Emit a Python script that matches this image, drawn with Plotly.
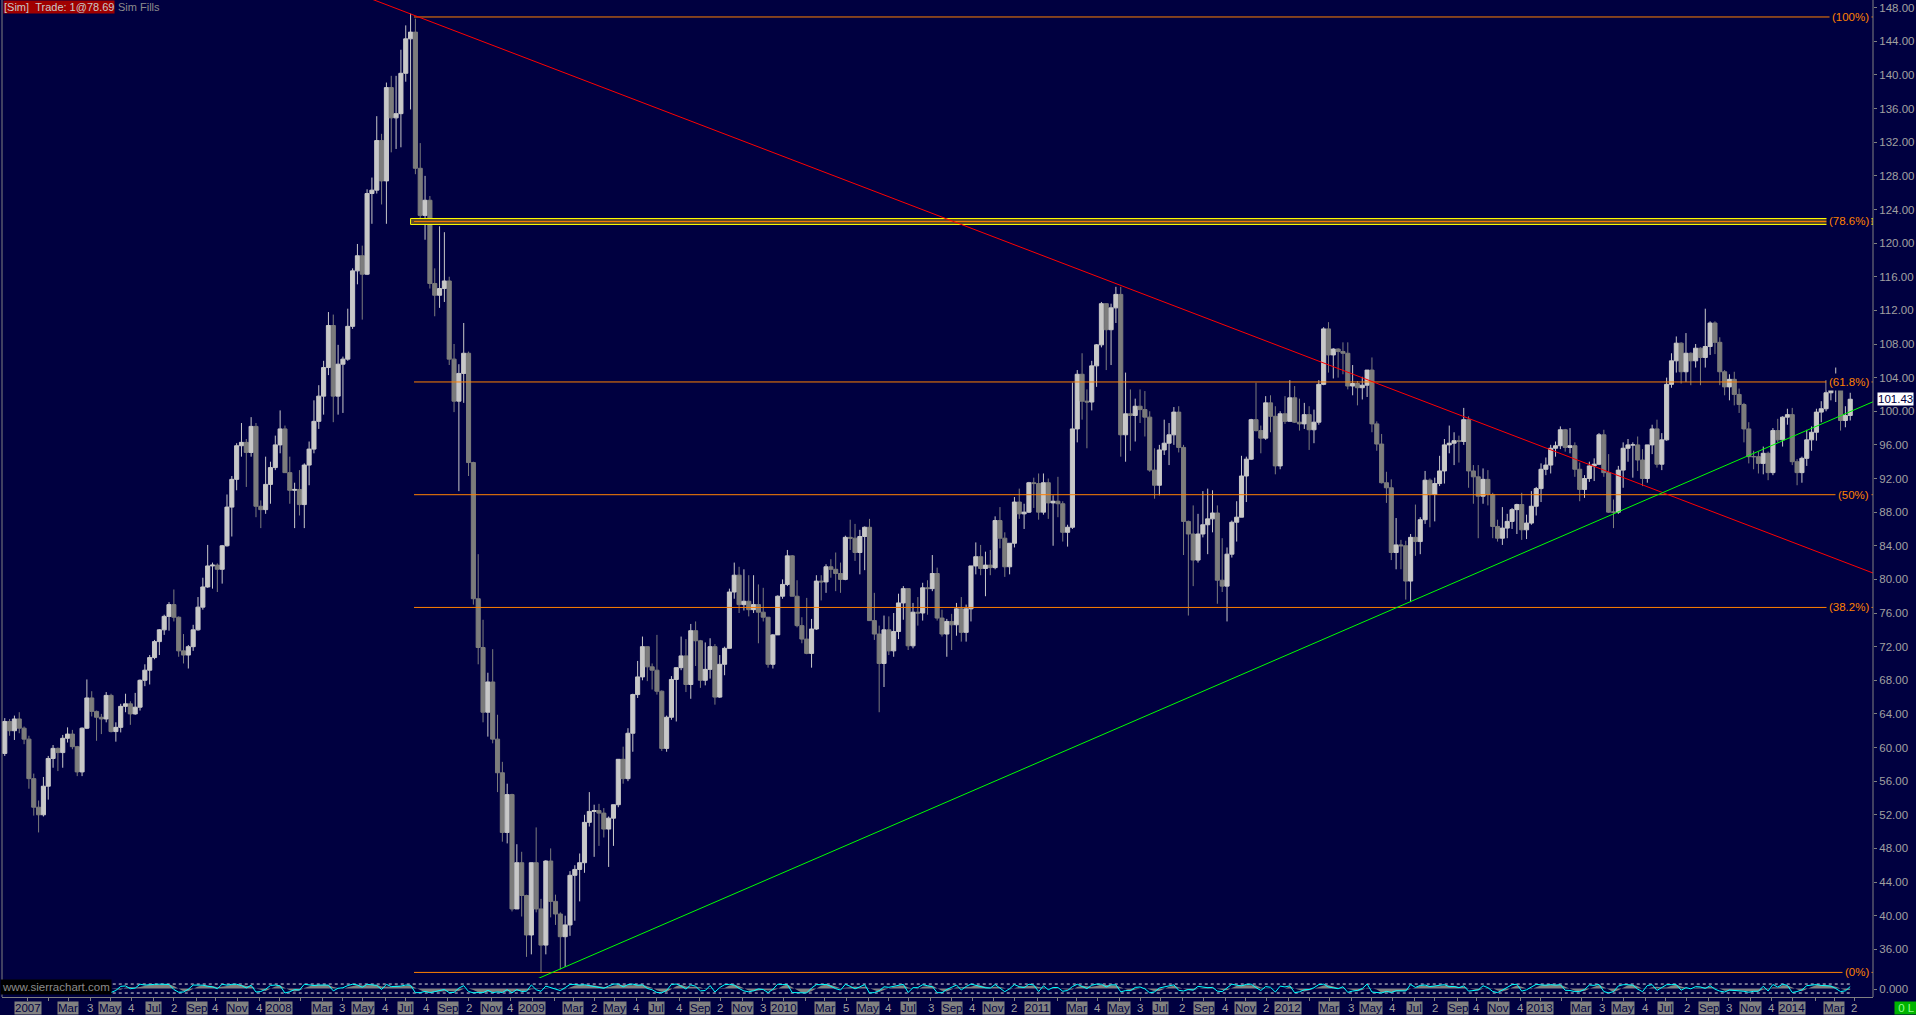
import plotly.graph_objects as go
import pandas as pd

# weekly bars, first bar = week of 27 Nov 2006, one bar per week
first_week = '2006-11-29'

wk_open = [
    59.3, 63.1, 62.0, 63.4, 62.3, 61.0, 56.3, 52.9, 52.0, 55.4,
    58.7, 59.9, 59.4, 61.1, 61.6, 60.1, 57.1, 62.3, 65.9, 64.3,
    63.6, 63.4, 66.2, 61.9, 62.4, 64.9, 65.2, 64.0, 64.8, 68.0,
    69.2, 70.7, 72.6, 74.0, 75.6, 77.0, 75.5, 71.5, 71.0, 72.0,
    74.0, 76.7, 79.1, 81.6, 81.7, 81.2, 84.0, 88.6, 91.9, 95.9,
    96.3, 95.1, 98.2, 88.7, 88.3, 91.3, 93.3, 96.0, 97.9, 92.7,
    90.6, 90.7, 88.9, 93.6, 95.5, 98.8, 101.8, 105.2, 110.2, 101.8,
    105.6, 106.2, 110.1, 116.7, 118.5, 116.3, 125.9, 126.3, 132.2, 127.4,
    138.5, 134.9, 135.4, 140.2, 144.3, 145.1, 128.9, 123.3, 125.1, 115.2,
    113.8, 114.6, 115.5, 106.2, 101.2, 104.5, 106.9, 93.9, 77.7, 71.9,
    64.2, 67.8, 61.0, 57.0, 49.9, 54.4, 40.8, 46.3, 42.4, 37.7,
    46.3, 40.8, 36.5, 46.5, 41.7, 40.2, 37.5, 38.9, 44.8, 45.5,
    46.3, 51.1, 52.4, 52.5, 52.2, 50.3, 51.6, 53.2, 58.6, 56.3,
    61.7, 66.3, 68.4, 72.0, 69.6, 69.2, 66.7, 59.9, 63.6, 68.1,
    69.5, 70.9, 67.5, 73.9, 72.7, 68.0, 69.3, 72.0, 66.0, 69.9,
    71.8, 78.5, 80.5, 77.0, 77.4, 76.4, 77.0, 76.1, 75.5, 69.9,
    73.4, 78.0, 79.4, 82.8, 78.0, 74.5, 72.9, 71.2, 74.1, 79.8,
    79.7, 81.5, 81.2, 80.7, 80.0, 85.0, 84.9, 83.2, 85.1, 86.2,
    75.1, 73.5, 70.0, 74.0, 71.5, 73.8, 77.2, 78.9, 72.1, 76.1,
    76.0, 79.0, 78.9, 80.7, 75.4, 73.5, 75.0, 74.6, 76.5, 73.7,
    76.5, 81.6, 82.7, 81.3, 81.7, 81.4, 87.0, 84.9, 81.5, 84.3,
    89.2, 87.8, 88.0, 91.5, 91.4, 88.0, 91.5, 89.1, 89.3, 89.0,
    85.6, 86.2, 97.9, 104.4, 101.2, 101.1, 105.4, 107.9, 112.8, 109.7,
    112.3, 113.9, 97.2, 99.7, 99.5, 100.6, 100.2, 99.3, 93.0, 91.2,
    95.4, 96.2, 97.2, 99.9, 95.7, 86.9, 85.4, 82.3, 85.4, 86.5,
    87.2, 87.9, 79.9, 79.2, 83.0, 86.8, 87.4, 92.3, 94.3, 99.0,
    97.7, 96.8, 101.0, 99.4, 93.5, 99.7, 98.8, 101.6, 98.7, 98.5,
    99.6, 97.8, 98.7, 103.2, 109.8, 106.7, 107.4, 107.1, 106.9, 103.0,
    103.3, 102.8, 103.1, 104.9, 98.5, 96.1, 91.5, 90.9, 83.2, 84.1,
    84.0, 79.8, 85.0, 84.5, 87.1, 91.8, 90.1, 91.4, 92.9, 96.0,
    96.2, 96.5, 96.4, 99.0, 92.9, 92.2, 89.9, 91.9, 90.1, 86.3,
    84.9, 86.1, 86.9, 88.3, 88.9, 85.9, 86.7, 88.7, 90.8, 93.1,
    93.6, 95.6, 95.9, 97.8, 95.7, 95.9, 93.1, 90.7, 92.0, 93.5,
    93.7, 97.2, 92.7, 88.0, 88.0, 93.0, 95.6, 96.0, 96.0, 94.2,
    92.0, 96.0, 97.9, 93.7, 96.6, 103.2, 106.0, 108.1, 104.7, 106.9,
    106.0, 107.5, 106.4, 107.7, 110.5, 108.2, 104.7, 102.9, 103.8, 102.0,
    100.8, 97.9, 94.6, 94.6, 93.8, 95.0, 92.7, 97.7, 96.6, 99.3,
    99.6, 94.0, 92.7, 94.4, 96.6, 97.5, 99.9, 100.3, 102.2, 102.6,
    102.6, 98.9, 99.5,
]

wk_high = [
    63.5, 63.4, 63.8, 64.2, 62.5, 61.4, 56.9, 53.7, 56.5, 59.0,
    60.3, 60.0, 61.5, 62.4, 62.1, 60.2, 62.4, 68.1, 66.7, 64.4,
    64.0, 66.6, 66.4, 63.0, 65.2, 66.4, 65.5, 66.5, 68.1, 69.9,
    71.0, 72.8, 74.1, 75.8, 77.3, 78.8, 75.6, 73.5, 72.2, 74.6,
    77.9, 80.2, 84.1, 82.0, 81.9, 84.1, 90.1, 92.3, 96.2, 98.6,
    96.7, 99.3, 98.6, 89.4, 94.6, 94.0, 97.1, 100.1, 98.3, 94.6,
    91.5, 93.0, 93.8, 96.4, 101.3, 103.1, 106.0, 111.8, 111.5, 107.9,
    106.5, 112.2, 117.0, 119.9, 119.7, 126.4, 127.8, 135.1, 133.0, 139.1,
    139.9, 139.9, 143.0, 145.9, 147.3, 146.7, 131.9, 128.0, 125.6, 117.0,
    122.0, 121.3, 116.0, 108.0, 105.6, 110.5, 107.1, 94.0, 83.0, 75.2,
    68.9, 71.7, 63.9, 58.3, 55.7, 54.5, 48.5, 47.6, 42.5, 46.3,
    50.5, 42.0, 46.6, 48.0, 42.5, 40.4, 40.0, 45.3, 46.0, 47.4,
    52.0, 54.7, 53.2, 53.3, 52.8, 51.8, 53.2, 58.6, 60.1, 62.3,
    66.4, 70.3, 73.2, 72.0, 70.0, 73.4, 66.8, 63.8, 68.5, 69.5,
    73.2, 72.9, 74.7, 75.0, 72.8, 72.5, 73.0, 72.3, 71.0, 72.0,
    78.9, 82.0, 81.5, 81.2, 80.5, 80.5, 79.4, 79.0, 75.5, 73.5,
    78.1, 80.0, 83.5, 82.9, 79.9, 75.5, 77.8, 75.3, 80.5, 80.5,
    81.8, 82.4, 83.2, 82.0, 85.2, 87.1, 86.6, 85.9, 86.3, 87.2,
    78.4, 74.5, 75.7, 75.6, 76.0, 78.3, 79.2, 78.9, 77.2, 77.9,
    79.6, 79.9, 82.9, 81.4, 76.4, 75.3, 75.9, 77.2, 77.9, 77.0,
    81.6, 84.4, 84.1, 83.3, 83.5, 87.5, 88.6, 85.6, 84.3, 89.8,
    90.8, 89.0, 91.6, 92.1, 92.6, 92.6, 92.0, 90.0, 92.2, 89.3,
    86.5, 103.4, 104.9, 106.9, 102.6, 106.0, 108.0, 113.0, 112.8, 112.8,
    114.8, 114.8, 104.6, 102.6, 101.5, 102.6, 102.4, 100.0, 95.6, 96.0,
    99.0, 98.6, 100.5, 100.6, 96.0, 87.0, 88.8, 87.8, 90.5, 90.8,
    90.6, 88.8, 84.9, 83.8, 87.0, 89.3, 94.7, 94.6, 99.1, 103.4,
    98.3, 101.8, 101.9, 100.6, 100.0, 101.8, 103.7, 103.0, 101.5, 101.0,
    100.6, 100.2, 103.7, 110.0, 110.6, 107.5, 107.5, 108.2, 108.2, 105.5,
    103.6, 104.1, 104.9, 106.4, 98.8, 97.3, 92.8, 91.9, 87.3, 84.7,
    84.6, 85.4, 88.9, 87.4, 92.9, 92.0, 92.1, 94.7, 96.7, 98.3,
    97.5, 97.1, 100.4, 99.4, 93.6, 93.6, 93.2, 93.0, 90.3, 87.1,
    88.6, 87.8, 88.5, 89.0, 90.3, 87.7, 90.5, 91.0, 93.8, 94.5,
    96.0, 96.4, 98.2, 97.9, 98.0, 96.3, 93.9, 92.4, 94.0, 94.4,
    97.4, 97.8, 94.9, 89.5, 93.5, 96.3, 96.7, 96.3, 97.0, 95.5,
    96.0, 98.4, 99.0, 97.4, 104.0, 106.9, 108.9, 108.2, 109.3, 107.0,
    108.0, 107.6, 112.2, 110.7, 110.7, 108.8, 104.9, 104.4, 104.7, 102.7,
    101.0, 98.7, 95.3, 95.2, 95.8, 95.2, 98.0, 99.1, 99.4, 100.3,
    100.4, 94.3, 94.6, 97.8, 98.2, 100.3, 101.2, 103.7, 103.0, 105.2,
    102.9, 100.6, 102.2,
]

wk_low = [
    59.0, 61.4, 60.9, 61.7, 60.4, 55.1, 51.9, 49.9, 51.8, 53.8,
    57.6, 57.2, 57.6, 60.6, 59.8, 56.6, 56.6, 62.2, 63.7, 60.8,
    61.6, 63.0, 61.8, 60.7, 61.8, 64.2, 62.7, 63.9, 64.4, 67.3,
    67.5, 70.5, 71.0, 73.4, 73.9, 75.0, 70.8, 70.0, 69.4, 71.5,
    73.9, 76.4, 79.0, 78.9, 78.5, 79.5, 83.9, 85.1, 90.6, 94.6,
    91.0, 94.6, 87.4, 86.1, 87.8, 89.0, 93.0, 95.0, 92.7, 89.0,
    86.1, 87.6, 86.1, 91.2, 95.0, 97.9, 99.6, 104.3, 98.7, 99.6,
    99.8, 106.0, 109.8, 115.1, 110.9, 116.2, 122.3, 125.9, 124.6, 122.3,
    130.8, 131.2, 131.4, 139.2, 135.9, 128.2, 122.2, 120.4, 114.6, 111.3,
    112.3, 113.0, 105.5, 99.9, 90.5, 101.0, 92.3, 77.0, 69.9, 63.0,
    61.3, 60.5, 54.7, 48.8, 48.6, 40.5, 40.8, 39.9, 35.1, 35.4,
    40.4, 33.2, 35.4, 39.8, 38.9, 33.6, 33.9, 37.6, 39.4, 41.7,
    45.1, 50.6, 47.0, 48.3, 49.3, 45.8, 48.3, 52.9, 55.7, 56.0,
    59.5, 65.9, 68.0, 67.9, 66.9, 66.3, 59.6, 59.5, 63.3, 63.1,
    69.2, 66.6, 65.8, 69.7, 67.1, 67.4, 68.2, 65.1, 65.9, 68.6,
    71.8, 77.7, 76.0, 76.3, 75.6, 76.0, 72.4, 75.0, 69.5, 69.4,
    73.4, 77.7, 79.2, 78.0, 74.3, 72.4, 71.1, 69.5, 74.0, 77.5,
    78.4, 80.2, 78.6, 78.4, 79.9, 83.5, 82.2, 80.6, 81.1, 75.1,
    72.8, 64.2, 67.2, 71.0, 70.8, 72.9, 75.2, 71.6, 71.8, 74.5,
    75.1, 75.8, 78.6, 75.1, 73.2, 70.8, 71.6, 73.3, 72.6, 72.6,
    75.0, 80.6, 80.5, 78.0, 80.5, 81.2, 83.7, 80.3, 80.6, 83.8,
    87.2, 86.0, 87.9, 88.5, 87.1, 87.7, 87.2, 84.0, 87.4, 84.5,
    83.9, 86.0, 96.3, 99.0, 95.6, 100.1, 102.9, 107.6, 104.9, 105.5,
    110.5, 94.6, 94.0, 95.3, 96.4, 98.6, 97.0, 92.8, 89.6, 90.0,
    94.8, 93.6, 96.0, 95.1, 82.9, 75.7, 79.2, 82.0, 85.0, 83.0,
    85.6, 77.1, 78.5, 75.0, 82.6, 84.5, 87.4, 89.2, 94.2, 97.6,
    95.0, 96.6, 97.5, 92.5, 93.1, 98.5, 98.8, 98.6, 97.7, 97.9,
    95.4, 96.2, 98.4, 103.1, 104.6, 103.9, 104.0, 104.4, 102.6, 101.9,
    100.7, 101.4, 101.7, 97.5, 95.3, 91.4, 89.1, 82.3, 81.2, 81.2,
    77.6, 77.3, 82.8, 83.0, 86.6, 86.2, 86.9, 91.1, 91.4, 95.0,
    93.6, 93.9, 96.0, 90.9, 89.0, 84.9, 89.0, 88.8, 84.9, 84.5,
    84.1, 84.9, 86.0, 85.4, 84.7, 84.8, 86.5, 87.6, 89.2, 92.4,
    92.6, 94.6, 95.5, 95.2, 95.0, 92.2, 89.3, 89.7, 91.6, 91.7,
    93.6, 92.2, 87.9, 86.1, 87.8, 90.9, 94.0, 92.1, 92.9, 91.1,
    91.5, 94.9, 93.3, 93.0, 96.5, 102.8, 104.6, 103.3, 103.5, 103.1,
    105.2, 103.1, 105.2, 106.7, 106.8, 103.1, 101.9, 101.3, 100.7, 99.8,
    96.3, 93.8, 93.1, 92.6, 92.5, 91.8, 92.4, 96.3, 95.8, 98.4,
    93.6, 91.2, 91.5, 93.5, 95.3, 96.5, 98.7, 100.0, 101.3, 101.1,
    97.7, 98.1, 98.9,
]

wk_close = [
    63.1, 62.0, 63.4, 62.3, 61.0, 56.3, 52.9, 52.0, 55.4, 58.7,
    59.9, 59.4, 61.1, 61.6, 60.1, 57.1, 62.3, 65.9, 64.3, 63.6,
    63.4, 66.2, 61.9, 62.4, 64.9, 65.2, 64.0, 64.8, 68.0, 69.2,
    70.7, 72.6, 74.0, 75.6, 77.0, 75.5, 71.5, 71.0, 72.0, 74.0,
    76.7, 79.1, 81.6, 81.7, 81.2, 84.0, 88.6, 91.9, 95.9, 96.3,
    95.1, 98.2, 88.7, 88.3, 91.3, 93.3, 96.0, 97.9, 92.7, 90.6,
    90.7, 88.9, 93.6, 95.5, 98.8, 101.8, 105.2, 110.2, 101.8, 105.6,
    106.2, 110.1, 116.7, 118.5, 116.3, 125.9, 126.3, 132.2, 127.4, 138.5,
    134.9, 135.4, 140.2, 144.3, 145.1, 128.9, 123.3, 125.1, 115.2, 113.8,
    114.6, 115.5, 106.2, 101.2, 104.5, 106.9, 93.9, 77.7, 71.9, 64.2,
    67.8, 61.0, 57.0, 49.9, 54.4, 40.8, 46.3, 42.4, 37.7, 46.3,
    40.8, 36.5, 46.5, 41.7, 40.2, 37.5, 38.9, 44.8, 45.5, 46.3,
    51.1, 52.4, 52.5, 52.2, 50.3, 51.6, 53.2, 58.6, 56.3, 61.7,
    66.3, 68.4, 72.0, 69.6, 69.2, 66.7, 59.9, 63.6, 68.1, 69.5,
    70.9, 67.5, 73.9, 72.7, 68.0, 69.3, 72.0, 66.0, 69.9, 71.8,
    78.5, 80.5, 77.0, 77.4, 76.4, 77.0, 76.1, 75.5, 69.9, 73.4,
    78.0, 79.4, 82.8, 78.0, 74.5, 72.9, 71.2, 74.1, 79.8, 79.7,
    81.5, 81.2, 80.7, 80.0, 85.0, 84.9, 83.2, 85.1, 86.2, 75.1,
    73.5, 70.0, 74.0, 71.5, 73.8, 77.2, 78.9, 72.1, 76.1, 76.0,
    79.0, 78.9, 80.7, 75.4, 73.5, 75.0, 74.6, 76.5, 73.7, 76.5,
    81.6, 82.7, 81.3, 81.7, 81.4, 87.0, 84.9, 81.5, 84.3, 89.2,
    87.8, 88.0, 91.5, 91.4, 88.0, 91.5, 89.1, 89.3, 89.0, 85.6,
    86.2, 97.9, 104.4, 101.2, 101.1, 105.4, 107.9, 112.8, 109.7, 112.3,
    113.9, 97.2, 99.7, 99.5, 100.6, 100.2, 99.3, 93.0, 91.2, 95.4,
    96.2, 97.2, 99.9, 95.7, 86.9, 85.4, 82.3, 85.4, 86.5, 87.2,
    87.9, 79.9, 79.2, 83.0, 86.8, 87.4, 92.3, 94.3, 99.0, 97.7,
    96.8, 101.0, 99.4, 93.5, 99.7, 98.8, 101.6, 98.7, 98.5, 99.6,
    97.8, 98.7, 103.2, 109.8, 106.7, 107.4, 107.1, 106.9, 103.0, 103.3,
    102.8, 103.1, 104.9, 98.5, 96.1, 91.5, 90.9, 83.2, 84.1, 84.0,
    79.8, 85.0, 84.5, 87.1, 91.8, 90.1, 91.4, 92.9, 96.0, 96.2,
    96.5, 96.4, 99.0, 92.9, 92.2, 89.9, 91.9, 90.1, 86.3, 84.9,
    86.1, 86.9, 88.3, 88.9, 85.9, 86.7, 88.7, 90.8, 93.1, 93.6,
    95.6, 95.9, 97.8, 95.7, 95.9, 93.1, 90.7, 92.0, 93.5, 93.7,
    97.2, 92.7, 88.0, 88.0, 93.0, 95.6, 96.0, 96.0, 94.2, 92.0,
    96.0, 97.9, 93.7, 96.6, 103.2, 106.0, 108.1, 104.7, 106.9, 106.0,
    107.5, 106.4, 107.7, 110.5, 108.2, 104.7, 102.9, 103.8, 102.0, 100.8,
    97.9, 94.6, 94.6, 93.8, 95.0, 92.7, 97.7, 96.6, 99.3, 99.6,
    94.0, 92.7, 94.4, 96.6, 97.5, 99.9, 100.3, 102.2, 102.6, 102.6,
    98.9, 99.5, 101.43,
]

# fib retracement drawn from the July 2008 high to the 2009 low
fib_high = 146.9
fib_low = 33.25
fib_start = '2008-07-14'
fib_ratios = [1.0, 0.786, 0.618, 0.5, 0.382, 0.0]
fib_labels = ['(100%)', '(78.6%)', '(61.8%)', '(50%)', '(38.2%)', '(0%)']

# yellow zone round the 78.6% level
zone_start = '2008-07-09'
zone_top = 122.93
zone_bottom = 122.22

# trend lines, two anchor points each
red_dates = ['2008-07-11', '2011-05-03']
red_prices = [147.2, 115.0]
red_from = '2008-05-01'
green_dates = ['2009-02-12', '2012-06-28']
green_prices = [33.7, 77.4]
green_from = '2009-01-08'

# date axis text, Feb never gets a label, even months get a small number
month_names = {3: 'Mar', 5: 'May', 7: 'Jul', 9: 'Sep', 11: 'Nov'}
even_month_marks = ['3', '4', '2', '4', '4',
                    '3', '4', '4', '2', '4',
                    '2', '4', '4', '2', '3',
                    '5', '4', '3', '4', '2',
                    '4', '3', '2', '4', '2',
                    '3', '4', '2', '4', '4',
                    '3', '4', '2', '3', '4',
                    '2']

x_start = '2006-11-25'
x_end = '2014-04-28'

BG = '#000040'
GREY = '#808080'
TXT = '#a0a0a0'
ORANGE = '#ff8000'
FONT = 'Liberation Sans'

dates = pd.date_range(first_week, periods=len(wk_close), freq='7D')

fig = go.Figure()

fig.add_trace(go.Candlestick(
    x=dates, open=wk_open, high=wk_high, low=wk_low, close=wk_close,
    increasing=dict(line=dict(color='#c8c8c8', width=1), fillcolor='#c8c8c8'),
    decreasing=dict(line=dict(color='#7c7c7c', width=1), fillcolor='#7c7c7c'),
    whiskerwidth=0, hoverinfo='skip', yaxis='y'))

# zone box
zx = [zone_start, x_end, x_end, zone_start, zone_start]
zy = [zone_bottom, zone_bottom, zone_top, zone_top, zone_bottom]
fig.add_trace(go.Scatter(x=zx, y=zy, mode='lines', fill='toself',
                         fillcolor='#5e4a26', line=dict(color='#ffff00', width=1),
                         hoverinfo='skip', yaxis='y'))

# fib levels
fib_prices = [fib_low + r * (fib_high - fib_low) for r in fib_ratios]
for p in fib_prices:
    fig.add_trace(go.Scatter(x=[fib_start, x_end], y=[p, p], mode='lines',
                             line=dict(color=ORANGE, width=1), hoverinfo='skip', yaxis='y'))


def trend(anchor_dates, anchor_prices, d0, d1):
    a = pd.Timestamp(anchor_dates[0])
    b = pd.Timestamp(anchor_dates[1])
    slope = (anchor_prices[1] - anchor_prices[0]) / (b - a).days
    xs = [pd.Timestamp(d0), pd.Timestamp(d1)]
    return xs, [anchor_prices[0] + slope * (x - a).days for x in xs]


rx, ry = trend(red_dates, red_prices, red_from, x_end)
fig.add_trace(go.Scatter(x=rx, y=ry, mode='lines', line=dict(color='#ff0000', width=1),
                         hoverinfo='skip', yaxis='y'))
gx, gy = trend(green_dates, green_prices, green_from, x_end)
fig.add_trace(go.Scatter(x=gx, y=gy, mode='lines', line=dict(color='#00ff00', width=1),
                         hoverinfo='skip', yaxis='y'))

# small stochastic pane under the price pane
hi = pd.Series(wk_high).rolling(3, min_periods=1).max()
lo = pd.Series(wk_low).rolling(3, min_periods=1).min()
stoch_k = 100 * (pd.Series(wk_close) - lo) / (hi - lo)
stoch_d = stoch_k.rolling(3, min_periods=1).mean()

for lvl in [0, 100]:
    fig.add_trace(go.Scatter(x=[dates[0], dates[-1]], y=[lvl, lvl], mode='lines',
                             line=dict(color='#e0e0e0', width=1, dash='dot'),
                             hoverinfo='skip', yaxis='y2'))
fig.add_trace(go.Scatter(x=dates, y=[50] * len(dates), mode='lines',
                         line=dict(width=0), hoverinfo='skip', yaxis='y2'))
fig.add_trace(go.Scatter(x=dates, y=stoch_d, mode='lines', fill='tonexty',
                         fillcolor=GREY, line=dict(width=0), hoverinfo='skip', yaxis='y2'))
fig.add_trace(go.Scatter(x=dates, y=stoch_k, mode='lines',
                         line=dict(color='#00ffff', width=1), hoverinfo='skip', yaxis='y2'))

ann = []
for r, lab in zip(fib_prices, fib_labels):
    ann.append(dict(x=1, xref='paper', xanchor='right', xshift=-1, y=r, yref='y',
                    text=lab, showarrow=False, bgcolor=BG, borderpad=2,
                    font=dict(color=ORANGE, size=11.5, family=FONT)))

# date labels
month_starts = pd.date_range('2007-01-01', '2014-04-30', freq='BMS')
even_i = 0
tick_dates = []
for d in month_starts:
    tick_dates.append(d)
    if d.month == 1:
        txt, boxed = str(d.year), True
    elif d.month == 2:
        continue
    elif d.month in month_names:
        txt, boxed = month_names[d.month], True
    else:
        txt, boxed = even_month_marks[even_i], False
        even_i += 1
    a = dict(x=d, xref='x', xanchor='center', y=0, yref='paper', yanchor='top', yshift=-4,
             text=txt, showarrow=False, borderpad=0,
             font=dict(size=11.5, family=FONT, color=BG if boxed else TXT))
    if boxed:
        a['bgcolor'] = GREY
    ann.append(a)

ann += [
    dict(x=0, xref='paper', xanchor='left', xshift=1, y=1, yref='paper', yanchor='top',
         text='[Sim]\u00a0\u00a0Trade: 1@78.69', showarrow=False, bgcolor='#a00000', borderpad=0,
         font=dict(size=11, family=FONT, color='#c8c8c8')),
    dict(x=0, xref='paper', xanchor='left', xshift=115, y=1, yref='paper', yanchor='top',
         text='Sim Fills', showarrow=False, borderpad=0,
         font=dict(size=11, family=FONT, color='#8c8c8c')),
    dict(x=0, xref='paper', xanchor='left', xshift=-2, y=0, yref='paper', yanchor='bottom', yshift=2,
         text='www.sierrachart.com', showarrow=False, bgcolor='#000000', borderpad=1,
         font=dict(size=11.5, family=FONT, color='#8c8c8c')),
    dict(x=1, xref='paper', xanchor='left', xshift=4, y=wk_close[-1], yref='y',
         text=f'{wk_close[-1]:.2f}', showarrow=False, bgcolor='#ffffff', borderpad=0,
         font=dict(size=11.5, family=FONT, color=BG)),
    dict(x=1, xref='paper', xanchor='left', xshift=21, y=0, yref='paper', yanchor='top', yshift=-4,
         text='\u00a00 L\u00a0', showarrow=False, bgcolor='#00b400', borderpad=0,
         font=dict(size=11.5, family=FONT, color='#90ff90')),
]

shapes = [
    dict(type='line', xref='paper', yref='paper', x0=1, x1=1, y0=0, y1=1,
         line=dict(color=GREY, width=1)),
    dict(type='line', xref='paper', yref='paper', x0=0, x1=0, y0=0, y1=1,
         line=dict(color=GREY, width=1)),
]

fig.update_layout(
    width=1916, height=1015,
    margin=dict(l=2, r=43, t=0, b=18),
    paper_bgcolor=BG, plot_bgcolor=BG,
    showlegend=False,
    boxgap=0.15, boxgroupgap=0,
    font=dict(family=FONT, size=11, color=TXT),
    xaxis=dict(type='date', range=[x_start, x_end], anchor='y2',
               rangeslider=dict(visible=False),
               tickvals=tick_dates, showticklabels=False, ticks='outside', ticklen=3,
               tickcolor=GREY, showgrid=False, zeroline=False,
               showline=True, linecolor=GREY),
    yaxis=dict(domain=[0.019, 1], range=[32.58, 148.92], side='right',
               dtick=4, tick0=0, tickformat='.2f', ticks='outside', ticklen=3,
               tickcolor=GREY, showgrid=False, zeroline=False,
               tickfont=dict(size=11.5, family=FONT, color=TXT)),
    yaxis2=dict(domain=[0, 0.016], range=[-44.4, 133.3], side='right',
                tickvals=[44.4], ticktext=['0.000'], ticks='outside', ticklen=3,
                tickcolor=GREY, showgrid=False, zeroline=False,
                tickfont=dict(size=11.5, family=FONT, color=TXT)),
    annotations=ann,
    shapes=shapes,
)

fig.write_html("out.html", config={'displayModeBar': False},
               post_script="document.body.style.margin='0';document.body.style.overflow='hidden';")
